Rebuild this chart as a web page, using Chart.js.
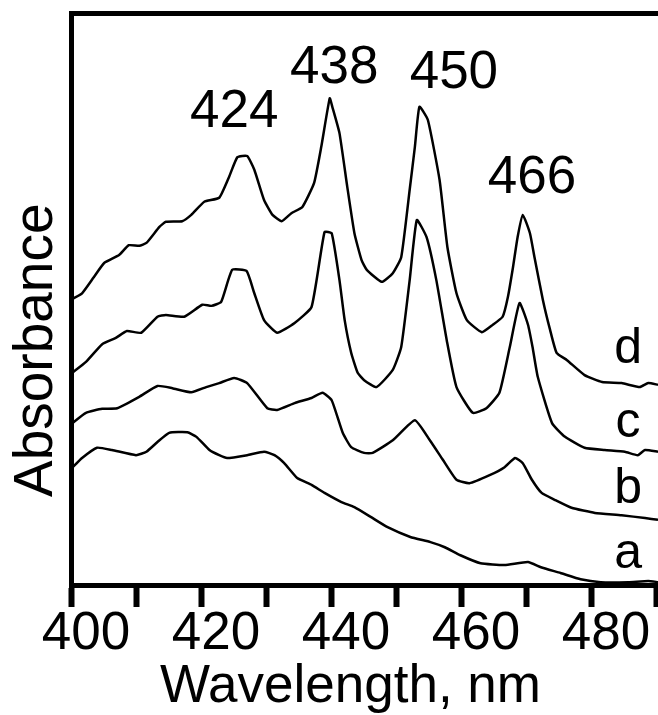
<!DOCTYPE html>
<html>
<head>
<meta charset="utf-8">
<script src="https://cdn.jsdelivr.net/npm/chart.js@4.4.1/dist/chart.umd.min.js"></script>
<style>
  html, body { margin: 0; padding: 0; background: #fff; }
  #wrap { width: 658px; height: 715px; }
</style>
</head>
<body>
<div id="wrap"><canvas id="c" width="658" height="715"></canvas></div>
<script>
// ---- Data (wavelength in nm, absorbance in arbitrary units, curves offset) ----
const wlD = [400.2,401.7,403.5,405.1,407.4,408.9,410.5,411.6,413.6,414.6,417.1,418.5,420.5,422.8,424.3,425.6,427.1,428.2,429.7,431.0,432.4,433.9,435.6,437.4,438.5,439.8,440.2,441.3,442.5,443.6,444.7,445.5,447.8,449.5,450.8,452.1,452.9,453.6,454.9,456.7,457.9,459.3,460.9,463.2,464.9,466.4,467.2,468.0,468.7,469.5,470.6,471.3,472.6,473.7,474.7,476.3,479.0,481.7,484.7,487.5,488.8,490.3];
const absD = [50.0,51.0,53.8,56.3,57.7,59.4,59.3,59.8,62.6,63.5,63.6,64.7,67.0,67.7,71.3,74.8,75.0,72.6,67.3,64.7,63.6,65.0,66.1,70.3,76.6,85.1,83.6,79.0,69.6,61.5,56.8,55.1,53.0,54.5,57.3,69.1,76.6,83.6,81.3,70.8,59.1,51.0,46.3,44.2,45.5,46.9,50.3,55.6,60.8,64.7,61.5,57.3,49.8,44.6,40.6,39.3,36.7,35.5,35.3,34.6,35.3,35.0];

const wlC = [400.2,402.3,404.8,406.9,408.6,410.8,413.3,414.6,417.4,420.2,421.6,423.1,424.8,427.0,428.2,429.7,431.7,434.4,437.0,439.0,440.1,441.3,442.1,443.1,444.1,445.1,447.0,449.5,450.8,452.1,453.2,454.7,456.2,457.8,459.3,461.8,463.9,465.9,467.5,469.0,470.3,471.0,471.8,474.0,476.0,479.0,482.1,485.2,487.2,488.3,490.3];
const absC = [37.1,39.0,42.1,43.2,44.4,44.1,46.9,47.2,46.9,49.0,48.8,49.5,55.1,54.9,51.0,46.3,44.1,45.8,48.6,61.7,61.5,53.3,46.3,40.6,37.1,35.8,34.6,37.6,41.6,53.3,63.8,60.8,53.3,42.8,34.6,30.1,30.9,33.6,41.6,49.3,45.5,41.6,36.4,28.3,25.9,24.0,23.6,23.3,22.7,23.6,23.3];

const wlB = [400.2,402.3,404.8,407.1,410.5,413.3,415.6,418.5,420.8,422.8,425.1,427.1,430.2,431.7,434.4,437.0,438.7,440.1,441.8,443.1,445.1,446.4,449.5,452.9,455.2,457.2,459.3,461.3,464.4,466.7,468.3,469.5,470.9,472.4,474.4,477.0,480.6,484.7,488.3,490.3];
const absB = [28.3,30.1,30.8,30.9,32.9,34.8,34.4,33.7,34.6,35.3,36.2,35.3,30.9,30.6,31.8,32.7,33.6,32.3,26.6,24.1,23.1,23.1,25.3,28.8,25.3,21.9,18.4,17.8,19.2,20.6,22.2,21.3,18.4,16.1,14.9,13.5,12.6,12.2,11.7,11.4];

const wlA = [400.2,401.7,404.0,406.3,410.0,411.6,413.3,415.1,417.9,419.3,421.3,422.8,424.0,427.1,429.7,431.3,432.8,434.8,437.0,439.0,441.6,443.6,446.1,448.7,452.2,455.3,457.5,459.9,463.0,466.7,470.3,472.3,475.3,478.4,481.5,485.7,488.8,490.3];
const absA = [20.5,22.2,24.0,23.6,22.7,23.3,25.0,26.6,26.7,25.9,23.6,22.7,22.2,22.7,23.3,22.7,21.3,18.7,17.5,16.1,14.5,13.6,11.9,10.1,8.4,7.5,6.6,5.2,3.8,3.5,4.0,3.1,2.1,1.0,0.5,0.5,0.7,0.5];

const seriesNames = ['a', 'b', 'c', 'd'];
const peakLabels = ['424', '438', '450', '466'];
const xTickValues = [400, 410, 420, 430, 440, 450, 460, 470, 480, 490];
const xTitle = 'Wavelength, nm';
const yTitle = 'Absorbance';

// ---- Layout / annotation placement ----
const peakLabelPos = [[425.1, 80.0], [440.5, 87.8], [458.9, 86.9], [470.9, 68.5]];   // data coords
const seriesLabelPos = [[485.7, 3.0], [485.7, 14.3], [485.7, 25.9], [485.7, 38.8]]; // data coords
const xTitlePx = { left: 160, baseline: 702, size: 53 };
const yTitlePx = { baselineX: 52, bottom: 497, size: 55 };

const FONT = '"Liberation Sans", Arial, Helvetica, sans-serif';

function toPts(wl, ab) { return wl.map((x, i) => ({ x: x, y: ab[i] })); }

const lineStyle = { borderColor: '#000', borderWidth: 2.5, pointRadius: 0, fill: false, tension: 0.15 };

const textPlugin = {
  id: 'texts',
  afterDraw(chart) {
    const ctx = chart.ctx, xs = chart.scales.x, ys = chart.scales.y;
    ctx.save();
    ctx.fillStyle = '#000';
    ctx.textAlign = 'center';
    ctx.textBaseline = 'alphabetic';
    ctx.font = '53px ' + FONT;
    peakLabels.forEach((t, i) => {
      ctx.fillText(t, xs.getPixelForValue(peakLabelPos[i][0]), ys.getPixelForValue(peakLabelPos[i][1]));
    });
    ctx.font = '50px ' + FONT;
    seriesNames.forEach((t, i) => {
      ctx.fillText(t, xs.getPixelForValue(seriesLabelPos[i][0]), ys.getPixelForValue(seriesLabelPos[i][1]));
    });
    // axis titles
    ctx.textAlign = 'left';
    ctx.font = xTitlePx.size + 'px ' + FONT;
    ctx.fillText(xTitle, xTitlePx.left, xTitlePx.baseline);
    ctx.save();
    ctx.translate(yTitlePx.baselineX, yTitlePx.bottom);
    ctx.rotate(-Math.PI / 2);
    ctx.font = yTitlePx.size + 'px ' + FONT;
    ctx.fillText(yTitle, 0, 0);
    ctx.restore();
    ctx.restore();
  }
};

new Chart(document.getElementById('c'), {
  type: 'line',
  data: {
    datasets: [
      Object.assign({ label: 'd', data: toPts(wlD, absD) }, lineStyle),
      Object.assign({ label: 'c', data: toPts(wlC, absC) }, lineStyle),
      Object.assign({ label: 'b', data: toPts(wlB, absB) }, lineStyle),
      Object.assign({ label: 'a', data: toPts(wlA, absA) }, lineStyle)
    ]
  },
  options: {
    responsive: false,
    animation: false,
    layout: { padding: 0 },
    plugins: { legend: { display: false }, tooltip: { enabled: false } },
    scales: {
      x: {
        type: 'linear',
        position: 'bottom',
        min: 400,
        max: 490.3,
        afterBuildTicks: (s) => { s.ticks = xTickValues.map(v => ({ value: v })); },
        afterFit: (s) => { s.height = 130; },
        ticks: {
          color: '#000',
          padding: 1,
          labelOffset: 15,
          maxRotation: 0,
          autoSkip: false,
          font: { family: FONT, size: 53, lineHeight: 1 },
          callback: (v) => (v % 20 === 0 && v <= 480 ? String(v) : '')
        },
        grid: { display: true, drawOnChartArea: false, drawTicks: true, tickLength: 22, tickWidth: 6, tickColor: '#000' },
        border: { display: true, width: 5, color: '#000' },
        title: { display: false }
      },
      x2: {
        type: 'linear',
        position: 'top',
        min: 400,
        max: 490.3,
        afterFit: (s) => { s.height = 13; },
        ticks: { display: false },
        grid: { display: false },
        border: { display: true, width: 5, color: '#000' }
      },
      y: {
        type: 'linear',
        min: 0,
        max: 100,
        afterFit: (s) => { s.width = 71; },
        ticks: { display: false },
        grid: { display: false },
        border: { display: true, width: 5, color: '#000' },
        title: { display: false }
      }
    }
  },
  plugins: [textPlugin]
});
</script>
</body>
</html>
